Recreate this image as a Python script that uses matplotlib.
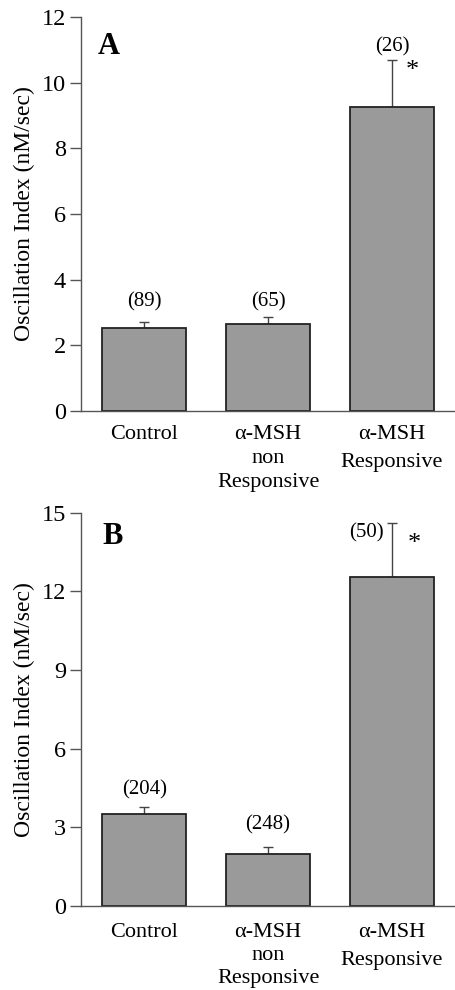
import matplotlib
matplotlib.use("Agg")
import matplotlib.pyplot as plt

plt.rcParams["font.family"] = ["Liberation Serif", "DejaVu Serif"]

categories = ["Control", "α-MSH\nnon\nResponsive", "α-MSH\nResponsive"]

# panel A
values_a = [2.53, 2.65, 9.24]
errors_a = [0.18, 0.22, 1.44]
counts_a = ["(89)", "(65)", "(26)"]
yticks_a = [0, 2, 4, 6, 8, 10, 12]

# panel B
values_b = [3.51, 1.98, 12.54]
errors_b = [0.28, 0.28, 2.06]
counts_b = ["(204)", "(248)", "(50)"]
yticks_b = [0, 3, 6, 9, 12, 15]

BAR = "#9a9a9a"
INK = "#222222"

fig = plt.figure(figsize=(4.56, 9.9), dpi=100)
ax_a = fig.add_axes([0.178, 0.585, 0.822, 0.398])
ax_b = fig.add_axes([0.178, 0.085, 0.822, 0.397])


def draw_panel(ax, values, errors, counts, yticks, letter, letter_pos, count_offsets, xpad, lsp):
    x = list(range(len(values)))
    ax.bar(x, values, width=0.68, color=BAR, edgecolor=INK, linewidth=1.3, zorder=2)
    ax.errorbar(x, values, yerr=[[0] * len(errors), errors], fmt="none",
                ecolor="#444444", elinewidth=1.0, capsize=3.8, capthick=1.0, zorder=1)
    ax.set_xlim(-0.508, 2.516)
    ax.set_ylim(0, yticks[-1])
    ax.set_yticks(yticks)
    ax.set_xticks(x)
    ax.set_xticklabels(categories[:2] + [""], fontsize=16, linespacing=lsp)
    # third label has wider line spacing
    ax.annotate(categories[2], xy=(2, 0), xycoords=("data", "axes fraction"),
                xytext=(0, -xpad), textcoords="offset points",
                ha="center", va="top", fontsize=16, linespacing=1.65)
    ax.tick_params(axis="y", labelsize=17.5, length=8, width=1, color="#555555", pad=3)
    ax.tick_params(axis="x", length=0, pad=xpad)
    for s in ("top", "right"):
        ax.spines[s].set_visible(False)
    for s in ("left", "bottom"):
        ax.spines[s].set_color("#555555")
        ax.spines[s].set_linewidth(1)
    ax.set_ylabel("Oscillation Index (nM/sec)", fontsize=17, labelpad=5)
    ax.text(letter_pos[0], letter_pos[1], letter, transform=ax.transAxes, fontsize=22,
            fontweight="bold", ha="left", va="center")
    for i, (v, e, c) in enumerate(zip(values, errors, counts)):
        dx, dy, ha = count_offsets[i]
        ax.text(i + dx, v + e + dy, c, ha=ha, va="center", fontsize=15)


draw_panel(ax_a, values_a, errors_a, counts_a, yticks_a, "A", (0.043, 0.924),
           [(0, 0.6, "center"), (0, 0.45, "center"), (0, 0.42, "center")], 10, 1.35)
ax_a.text(2.16, 10.35, "*", fontsize=19, ha="center", va="center")

draw_panel(ax_b, values_b, errors_b, counts_b, yticks_b, "B", (0.056, 0.939),
           [(0, 0.64, "center"), (0, 0.83, "center"), (-0.07, -0.36, "right")], 12.5, 1.28)
ax_b.text(2.18, 13.8, "*", fontsize=19, ha="center", va="center")

fig.savefig("out.png", dpi=100, facecolor="white")
